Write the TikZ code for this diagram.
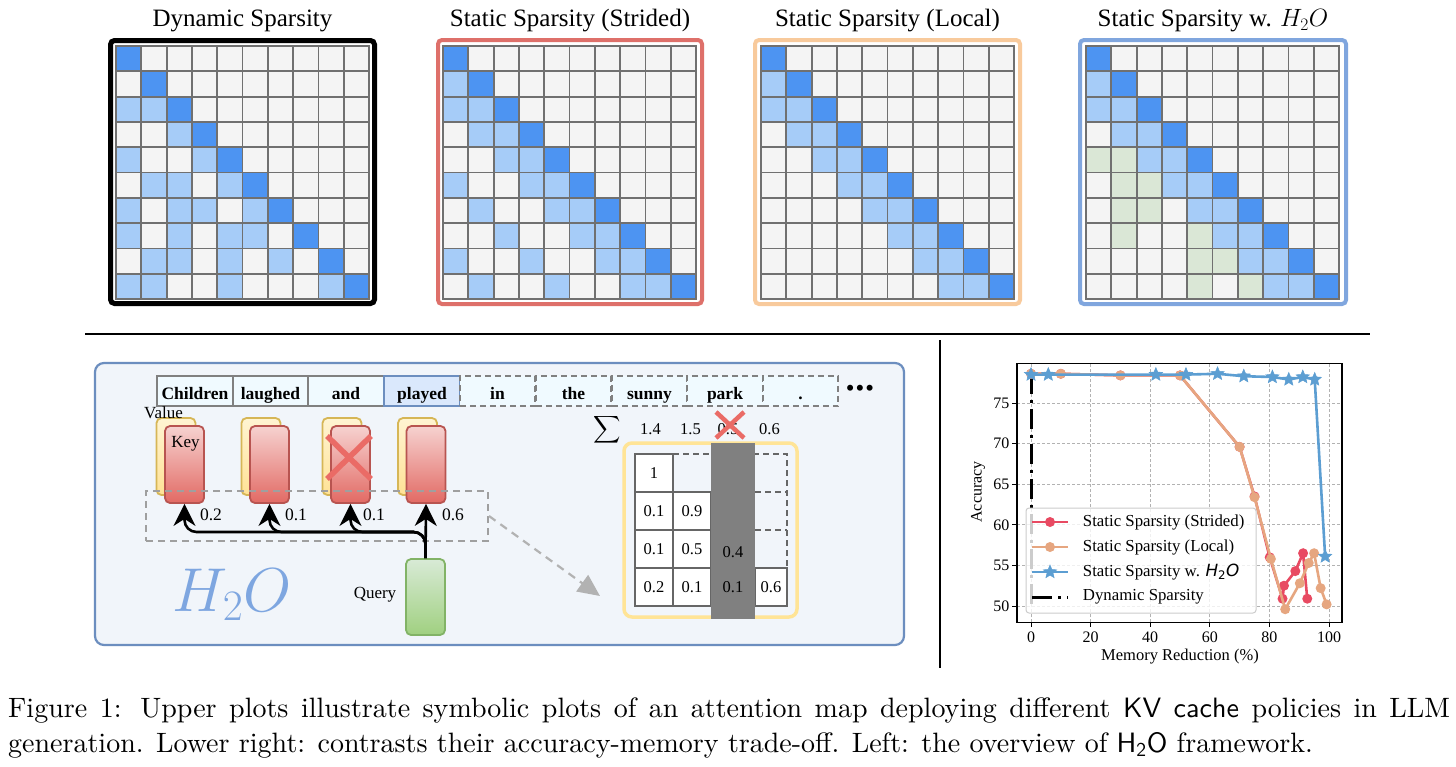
\RequirePackage{fix-cm}
\documentclass[tikz,border=0pt]{standalone}
\usepackage{amsmath,amssymb}
\usepackage{fontspec}
\usepackage{xcolor}
\usepackage{tikz}
\usetikzlibrary{arrows.meta}
\usetikzlibrary{plotmarks}
\newfontfamily\timesfont{Liberation Serif}
\newfontfamily\dejavufont{DejaVu Sans}[ItalicFont={DejaVu Sans Oblique}]
\newfontfamily\capfont{lmroman10-regular.otf}
\newfontfamily\capsans{lmsans10-regular.otf}

\definecolor{cellfill0}{RGB}{244,244,244}
\definecolor{cellfill1}{RGB}{166,204,248}
\definecolor{cellfill2}{RGB}{77,148,242}
\definecolor{cellfill3}{RGB}{218,231,214}
\definecolor{cellgrid}{RGB}{112,112,112}
\definecolor{framered}{RGB}{222,112,106}
\definecolor{frameorange}{RGB}{248,202,156}
\definecolor{frameblue}{RGB}{128,166,222}
\definecolor{panelfill}{RGB}{241,245,250}
\definecolor{panelline}{RGB}{108,142,191}
\definecolor{tokfill}{RGB}{240,250,255}
\definecolor{playfill}{RGB}{218,232,252}
\definecolor{valtop}{RGB}{255,244,210}
\definecolor{valbot}{RGB}{255,226,150}
\definecolor{valline}{RGB}{214,182,86}
\definecolor{keytop}{RGB}{246,210,208}
\definecolor{keybot}{RGB}{226,106,100}
\definecolor{keyline}{RGB}{184,84,80}
\definecolor{qtop}{RGB}{216,234,214}
\definecolor{qbot}{RGB}{160,208,128}
\definecolor{qline}{RGB}{130,179,102}
\definecolor{crossred}{RGB}{234,107,102}
\definecolor{attnyellow}{RGB}{255,228,150}
\definecolor{h2oblue}{RGB}{126,166,224}
\definecolor{stridedred}{RGB}{232,74,98}
\definecolor{localtan}{RGB}{230,166,128}
\definecolor{hhblue}{RGB}{92,158,210}

% filled five point star for the plot (y axis is flipped in the picture)
\pgfdeclareplotmark{fstar}{%
  \pgfpathmoveto{\pgfpointpolar{-90}{\pgfplotmarksize}}%
  \pgfpathlineto{\pgfpointpolar{-126}{.45\pgfplotmarksize}}%
  \pgfpathlineto{\pgfpointpolar{-162}{\pgfplotmarksize}}%
  \pgfpathlineto{\pgfpointpolar{-198}{.45\pgfplotmarksize}}%
  \pgfpathlineto{\pgfpointpolar{-234}{\pgfplotmarksize}}%
  \pgfpathlineto{\pgfpointpolar{-270}{.45\pgfplotmarksize}}%
  \pgfpathlineto{\pgfpointpolar{-306}{\pgfplotmarksize}}%
  \pgfpathlineto{\pgfpointpolar{-342}{.45\pgfplotmarksize}}%
  \pgfpathlineto{\pgfpointpolar{-18}{\pgfplotmarksize}}%
  \pgfpathlineto{\pgfpointpolar{-54}{.45\pgfplotmarksize}}%
  \pgfpathclose
  \pgfusepathqfillstroke
}

% 10x10 attention map: left, top, rows
\newcommand{\attnmap}[3]{%
  \foreach \rowvals [count=\i] in {#3} {
    \foreach \v [count=\j] in \rowvals {
      \draw[mapcell, fill=cellfill\v] ({#1+(\j-1)*25.3},{#2+(\i-1)*25.3}) rectangle ++(25.3,25.3);
    }
  }%
}

\begin{document}
\begin{tikzpicture}[x=1pt,y=1pt,yscale=-1,xscale=1,
  mapcell/.style={draw=cellgrid, line width=1.8pt},
  maptitle/.style={font=\timesfont\fontsize{25}{28}\selectfont, inner sep=0.75pt},
  lab/.style={font=\timesfont\fontsize{17}{20}\selectfont, inner sep=0.75pt},
  numlab/.style={font=\timesfont\fontsize{16.5}{20}\selectfont, inner sep=0.75pt},
  tokbox/.style={rectangle, minimum width=75.5pt, minimum height=30pt, inner sep=0pt, fill=tokfill, draw=gray, line width=1.6pt, font=\timesfont\bfseries\fontsize{17.5}{20}\selectfont, text height=16pt, text depth=0pt},
  tokdash/.style={tokbox, dash pattern=on 6pt off 4pt},
  valuecard/.style={rectangle, rounded corners=5pt, minimum width=39pt, minimum height=77pt, inner sep=0pt, draw=valline, line width=1.8pt, top color=valtop, bottom color=valbot},
  keycard/.style={rectangle, rounded corners=5pt, minimum width=39pt, minimum height=77pt, inner sep=0pt, draw=keyline, line width=1.8pt, top color=keytop, bottom color=keybot},
  querycard/.style={rectangle, rounded corners=5pt, minimum width=39pt, minimum height=76pt, inner sep=0pt, draw=qline, line width=1.8pt, top color=qtop, bottom color=qbot},
  qarrow/.style={line width=2.6pt, rounded corners=12pt, -{Stealth[length=22pt,width=22pt,inset=7pt]}},
  selbox/.style={rectangle, minimum width=342pt, minimum height=50pt, inner sep=0pt, draw=gray!75, line width=2pt, dash pattern=on 7pt off 5pt},
  selarrow/.style={draw=gray!60, line width=2.2pt, dash pattern=on 8pt off 6pt, -{Triangle[length=22pt,width=20pt,fill=gray!60]}},
  acell/.style={rectangle, minimum width=38pt, minimum height=38pt, inner sep=0pt, draw=black!60, fill=white, line width=2pt, font=\timesfont\fontsize{16.5}{20}\selectfont},
  redcross/.style={draw=crossred, line width=5.5pt},
  plotgrid/.style={draw=black!30, line width=0.8pt, dash pattern=on 3pt off 2pt},
  ticklab/.style={font=\timesfont\fontsize{16}{18}\selectfont, inner sep=1pt},
  stridedline/.style={draw=stridedred, line width=2.6pt, mark=*, mark size=3.6pt, mark options={fill=stridedred, draw=stridedred, solid}},
  localline/.style={draw=localtan, line width=2.6pt, mark=*, mark size=3.6pt, mark options={fill=localtan, draw=localtan, solid}},
  hhline/.style={draw=hhblue, line width=2.6pt, mark=fstar, mark size=7pt, mark options={fill=hhblue, draw=hhblue, line width=0.5pt, solid}},
  dynline/.style={draw=black, line width=3pt, dash pattern=on 20pt off 6pt on 3pt off 6pt},
  legtext/.style={font=\timesfont\fontsize{16.8}{20}\selectfont, inner sep=0.75pt, anchor=west}]

\useasboundingbox (0,0) rectangle (1456,766);
\fill[white] (0,0) rectangle (1456,766);

%%%%%%%%%%%%%%%% upper attention maps
% Text Node
\node[maptitle] (title1) at (242.5,21) {Dynamic Sparsity};
\node[maptitle] (title2) at (570,21) {Static Sparsity (Strided)};
\node[maptitle] (title3) at (887.5,21) {Static Sparsity (Local)};
\node[maptitle] (title4) at (1213,21) {Static Sparsity w. $H_2O$};

%Rounded Rect
\draw[black, line width=5pt, rounded corners=4pt] (110.5,40.5) rectangle (374.5,303.5);
\draw[framered, line width=4pt, rounded corners=4pt] (438,40) rectangle (702,304);
\draw[frameorange, line width=4pt, rounded corners=4pt] (755,40) rectangle (1020,304);
\draw[frameblue, line width=4pt, rounded corners=4pt] (1080,40) rectangle (1346,304);

% Dynamic Sparsity
\attnmap{116}{46}{{2,0,0,0,0,0,0,0,0,0},{0,2,0,0,0,0,0,0,0,0},{1,1,2,0,0,0,0,0,0,0},{0,0,1,2,0,0,0,0,0,0},{1,0,0,1,2,0,0,0,0,0},{0,1,1,0,1,2,0,0,0,0},{1,0,1,1,0,1,2,0,0,0},{1,0,1,0,1,1,0,2,0,0},{0,1,1,0,1,0,1,0,2,0},{1,1,0,0,1,0,0,0,1,2}}
% Strided
\attnmap{443}{46}{{2,0,0,0,0,0,0,0,0,0},{1,2,0,0,0,0,0,0,0,0},{1,1,2,0,0,0,0,0,0,0},{0,1,1,2,0,0,0,0,0,0},{0,0,1,1,2,0,0,0,0,0},{1,0,0,1,1,2,0,0,0,0},{0,1,0,0,1,1,2,0,0,0},{0,0,1,0,0,1,1,2,0,0},{1,0,0,1,0,0,1,1,2,0},{0,1,0,0,1,0,0,1,1,2}}
% Local
\attnmap{761}{46}{{2,0,0,0,0,0,0,0,0,0},{1,2,0,0,0,0,0,0,0,0},{1,1,2,0,0,0,0,0,0,0},{0,1,1,2,0,0,0,0,0,0},{0,0,1,1,2,0,0,0,0,0},{0,0,0,1,1,2,0,0,0,0},{0,0,0,0,1,1,2,0,0,0},{0,0,0,0,0,1,1,2,0,0},{0,0,0,0,0,0,1,1,2,0},{0,0,0,0,0,0,0,1,1,2}}
% with H2O
\attnmap{1086}{46}{{2,0,0,0,0,0,0,0,0,0},{1,2,0,0,0,0,0,0,0,0},{1,1,2,0,0,0,0,0,0,0},{0,1,1,2,0,0,0,0,0,0},{3,3,1,1,2,0,0,0,0,0},{0,3,3,1,1,2,0,0,0,0},{0,3,3,0,1,1,2,0,0,0},{0,3,0,0,3,1,1,2,0,0},{0,0,0,0,3,3,1,1,2,0},{0,0,0,0,3,0,3,1,1,2}}

%Straight Lines
\draw[line width=2.5pt] (85,334) -- (1370,334);
\draw[line width=2pt] (940,340) -- (940,668);

%%%%%%%%%%%%%%%% H2O overview
%Rounded Rect
\draw[draw=panelline, fill=panelfill, line width=2.2pt, rounded corners=9pt] (95,363) rectangle (904,645);

% tokens
\node[tokbox] (tok1) at (195,391) {Children};
\node[tokbox] (tok2) at (270.5,391) {laughed};
\node[tokbox] (tok3) at (346,391) {and};
\node[tokbox, fill=playfill, draw=panelline] (tok4) at (422,391) {played};
\node[tokdash] (tok5) at (497.5,391) {in};
\node[tokdash] (tok6) at (573.5,391) {the};
\node[tokdash] (tok7) at (649.5,391) {sunny};
\node[tokdash] (tok8) at (725,391) {park};
\node[tokdash] (tok9) at (800.5,391) {.};
\node[font=\timesfont\bfseries\fontsize{22}{22}\selectfont, inner sep=0pt] (more) at (860,390) {•\hspace{2pt}•\hspace{2pt}•};

% KV cache cards
\node[valuecard] (val1) at (176,456.5) {};
\node[keycard] (key1) at (184.5,464.5) {};
\node[valuecard] (val2) at (261,456.5) {};
\node[keycard] (key2) at (269.5,464.5) {};
\node[valuecard] (val3) at (342,456.5) {};
\node[keycard] (key3) at (350.5,464.5) {};
\node[valuecard] (val4) at (417.5,456.5) {};
\node[keycard] (key4) at (426,464.5) {};
\node[querycard] (query) at (425.5,597) {};

% Text Node
\node[lab] (vallab) at (163.5,413) {Value};
\node[lab] (keylab) at (185.5,443.5) {Key};
\node[lab] (querylab) at (375,595) {Query};

%Straight Lines
\draw[redcross] (327,436) -- (371,479) (327,479) -- (371,436);

% selected window
\node[selbox] (kvsel) at (317,516) {};

% query to keys
\coordinate (fork) at (425.5,532);
\draw[qarrow] (query.north) -- (fork) -| (key1.south);
\draw[qarrow] (query.north) -- (fork) -| (key2.south);
\draw[qarrow] (query.north) -- (fork) -| (key3.south);
\draw[qarrow] (query.north) -- (key4.south);

% Text Node
\node[lab, font=\timesfont\fontsize{17.5}{20}\selectfont] (w1) at (211,515) {0.2};
\node[lab, font=\timesfont\fontsize{17.5}{20}\selectfont] (w2) at (296,515) {0.1};
\node[lab, font=\timesfont\fontsize{17.5}{20}\selectfont] (w3) at (374,515) {0.1};
\node[lab, font=\timesfont\fontsize{17.5}{20}\selectfont] (w4) at (453,515) {0.6};

\node[text=h2oblue, font=\fontsize{62}{62}\selectfont, inner sep=0pt] (h2o) at (232,595) {$H_2O$};

% accumulated attention
\node[rectangle, rounded corners=8pt, minimum width=173pt, minimum height=174pt, inner sep=0pt, draw=attnyellow, line width=3.5pt] (attn) at (710.5,530) {};
\coordinate (attntip) at (600,596);
\draw[selarrow] (kvsel.east) -- (attntip);

\draw[draw=black!60, line width=2pt, dash pattern=on 6pt off 4pt] (673,454) -- (787,454) -- (787,568);
\draw[draw=black!60, line width=2pt, dash pattern=on 6pt off 4pt] (755,492) -- (787,492) (755,530) -- (787,530);
\node[acell] (a11) at (654,473) {1};
\node[acell] (a21) at (654,511) {0.1};
\node[acell] (a22) at (692,511) {0.9};
\node[acell] (a31) at (654,549) {0.1};
\node[acell] (a32) at (692,549) {0.5};
\node[acell] (a41) at (654,587) {0.2};
\node[acell] (a42) at (692,587) {0.1};
\node[acell, minimum width=32pt] (a44) at (771,587) {0.6};
\fill[black!50] (711,443) rectangle (755,619);
\node[numlab] (a33) at (733,552) {0.4};
\node[numlab] (a43) at (733,587) {0.1};

\node[inner sep=0.75pt, font=\fontsize{19}{22}\selectfont] (sigma) at (607.5,430) {$\displaystyle\sum$};
\node[numlab] (s1) at (650.5,429) {1.4};
\node[numlab] (s2) at (690.5,429) {1.5};
\node[numlab] (s3) at (728,429) {0.5};
\node[numlab] (s4) at (769.5,429) {0.6};
\draw[redcross, line width=4.5pt] (716,412) -- (744,438) (716,438) -- (744,412);

%%%%%%%%%%%%%%%% accuracy vs memory
\begin{scope}[shift={(1031,1012)}, x=2.98pt, y=-8.12pt]
\foreach \gx in {0,20,...,100} \draw[plotgrid] (\gx,48.0) -- (\gx,79.9);
\foreach \gy in {50,55,...,75} \draw[plotgrid] (-4.7,\gy) -- (104.4,\gy);
\foreach \gx in {0,20,...,100} {
  \draw[line width=1pt] (\gx,48.0) -- (\gx,47.4);
  \node[ticklab, anchor=north] (xt\gx) at (\gx,47.0) {\gx};
}
\foreach \gy in {50,55,...,75} {
  \draw[line width=1pt] (-4.7,\gy) -- (-6.4,\gy);
  \node[ticklab, anchor=east] (yt\gy) at (-6.9,\gy) {\gy};
}
\draw[dynline] (0,78.6) -- (0,49.6);
\draw[stridedline] plot coordinates {(0,78.6) (10,78.6) (30,78.4) (50,78.4) (70,69.6) (75,63.5) (80.1,56.0) (84.4,50.9) (84.9,52.5) (88.7,54.3) (91.3,56.5) (92.7,50.9)};
\draw[localline] plot coordinates {(0,78.6) (10,78.6) (30,78.4) (50,78.4) (70,69.6) (75,63.4) (80.5,55.8) (85.3,49.6) (90.2,52.8) (93.2,55.3) (95.0,56.5) (97.2,52.2) (99.2,50.2)};
\draw[hhline] plot coordinates {(0,78.5) (5.8,78.5) (41.9,78.5) (52,78.5) (62.6,78.6) (71.4,78.3) (81,78.2) (86.5,77.9) (91.2,78.2) (95.2,77.9) (98.7,56.1)};
\draw[line width=1.3pt] (-4.7,48.0) rectangle (104.4,79.9);
\end{scope}

% legend
\node[rectangle, rounded corners=3pt, minimum width=230pt, minimum height=105pt, inner sep=0pt, fill=white, fill opacity=0.8, draw=black!20, line width=1pt] (legend) at (1141,560.5) {};
\draw[stridedline, mark indices={2}] plot coordinates {(1032,522) (1050,522) (1068,522)};
\draw[localline, mark indices={2}] plot coordinates {(1032,547) (1050,547) (1068,547)};
\draw[hhline, mark indices={2}] plot coordinates {(1032,572) (1050,572) (1068,572)};
\draw[dynline] (1032,597) -- (1068,597);
\node[legtext] (lg1) at (1082,522) {Static Sparsity (Strided)};
\node[legtext] (lg2) at (1082,547) {Static Sparsity (Local)};
\node[legtext] (lg3) at (1082,572) {Static Sparsity w. {\dejavufont\itshape H}{\dejavufont\textsubscript{2}}{\dejavufont\itshape O}};
\node[legtext] (lg4) at (1082,597) {Dynamic Sparsity};

% Text Node
\node[ticklab, rotate=90] (ylab) at (978,492) {Accuracy};
\node[ticklab, font=\timesfont\fontsize{16.5}{18}\selectfont] (xlab) at (1180,657) {Memory Reduction (\%)};

%%%%%%%%%%%%%%%% caption
\node[anchor=base west, inner sep=0pt, font=\capfont\fontsize{28}{35}\selectfont] (cap1) at (8,717) {\makebox[1442pt][s]{Figure 1: Upper plots illustrate symbolic plots of an attention map deploying different {\capsans KV cache} policies in LLM}};
\node[anchor=base west, inner sep=0pt, font=\capfont\fontsize{28}{35}\selectfont] (cap2) at (8,752) {generation. Lower right: contrasts their accuracy-memory trade-off. Left: the overview of {\capsans H\textsubscript{2}O} framework.};

\end{tikzpicture}
\end{document}
